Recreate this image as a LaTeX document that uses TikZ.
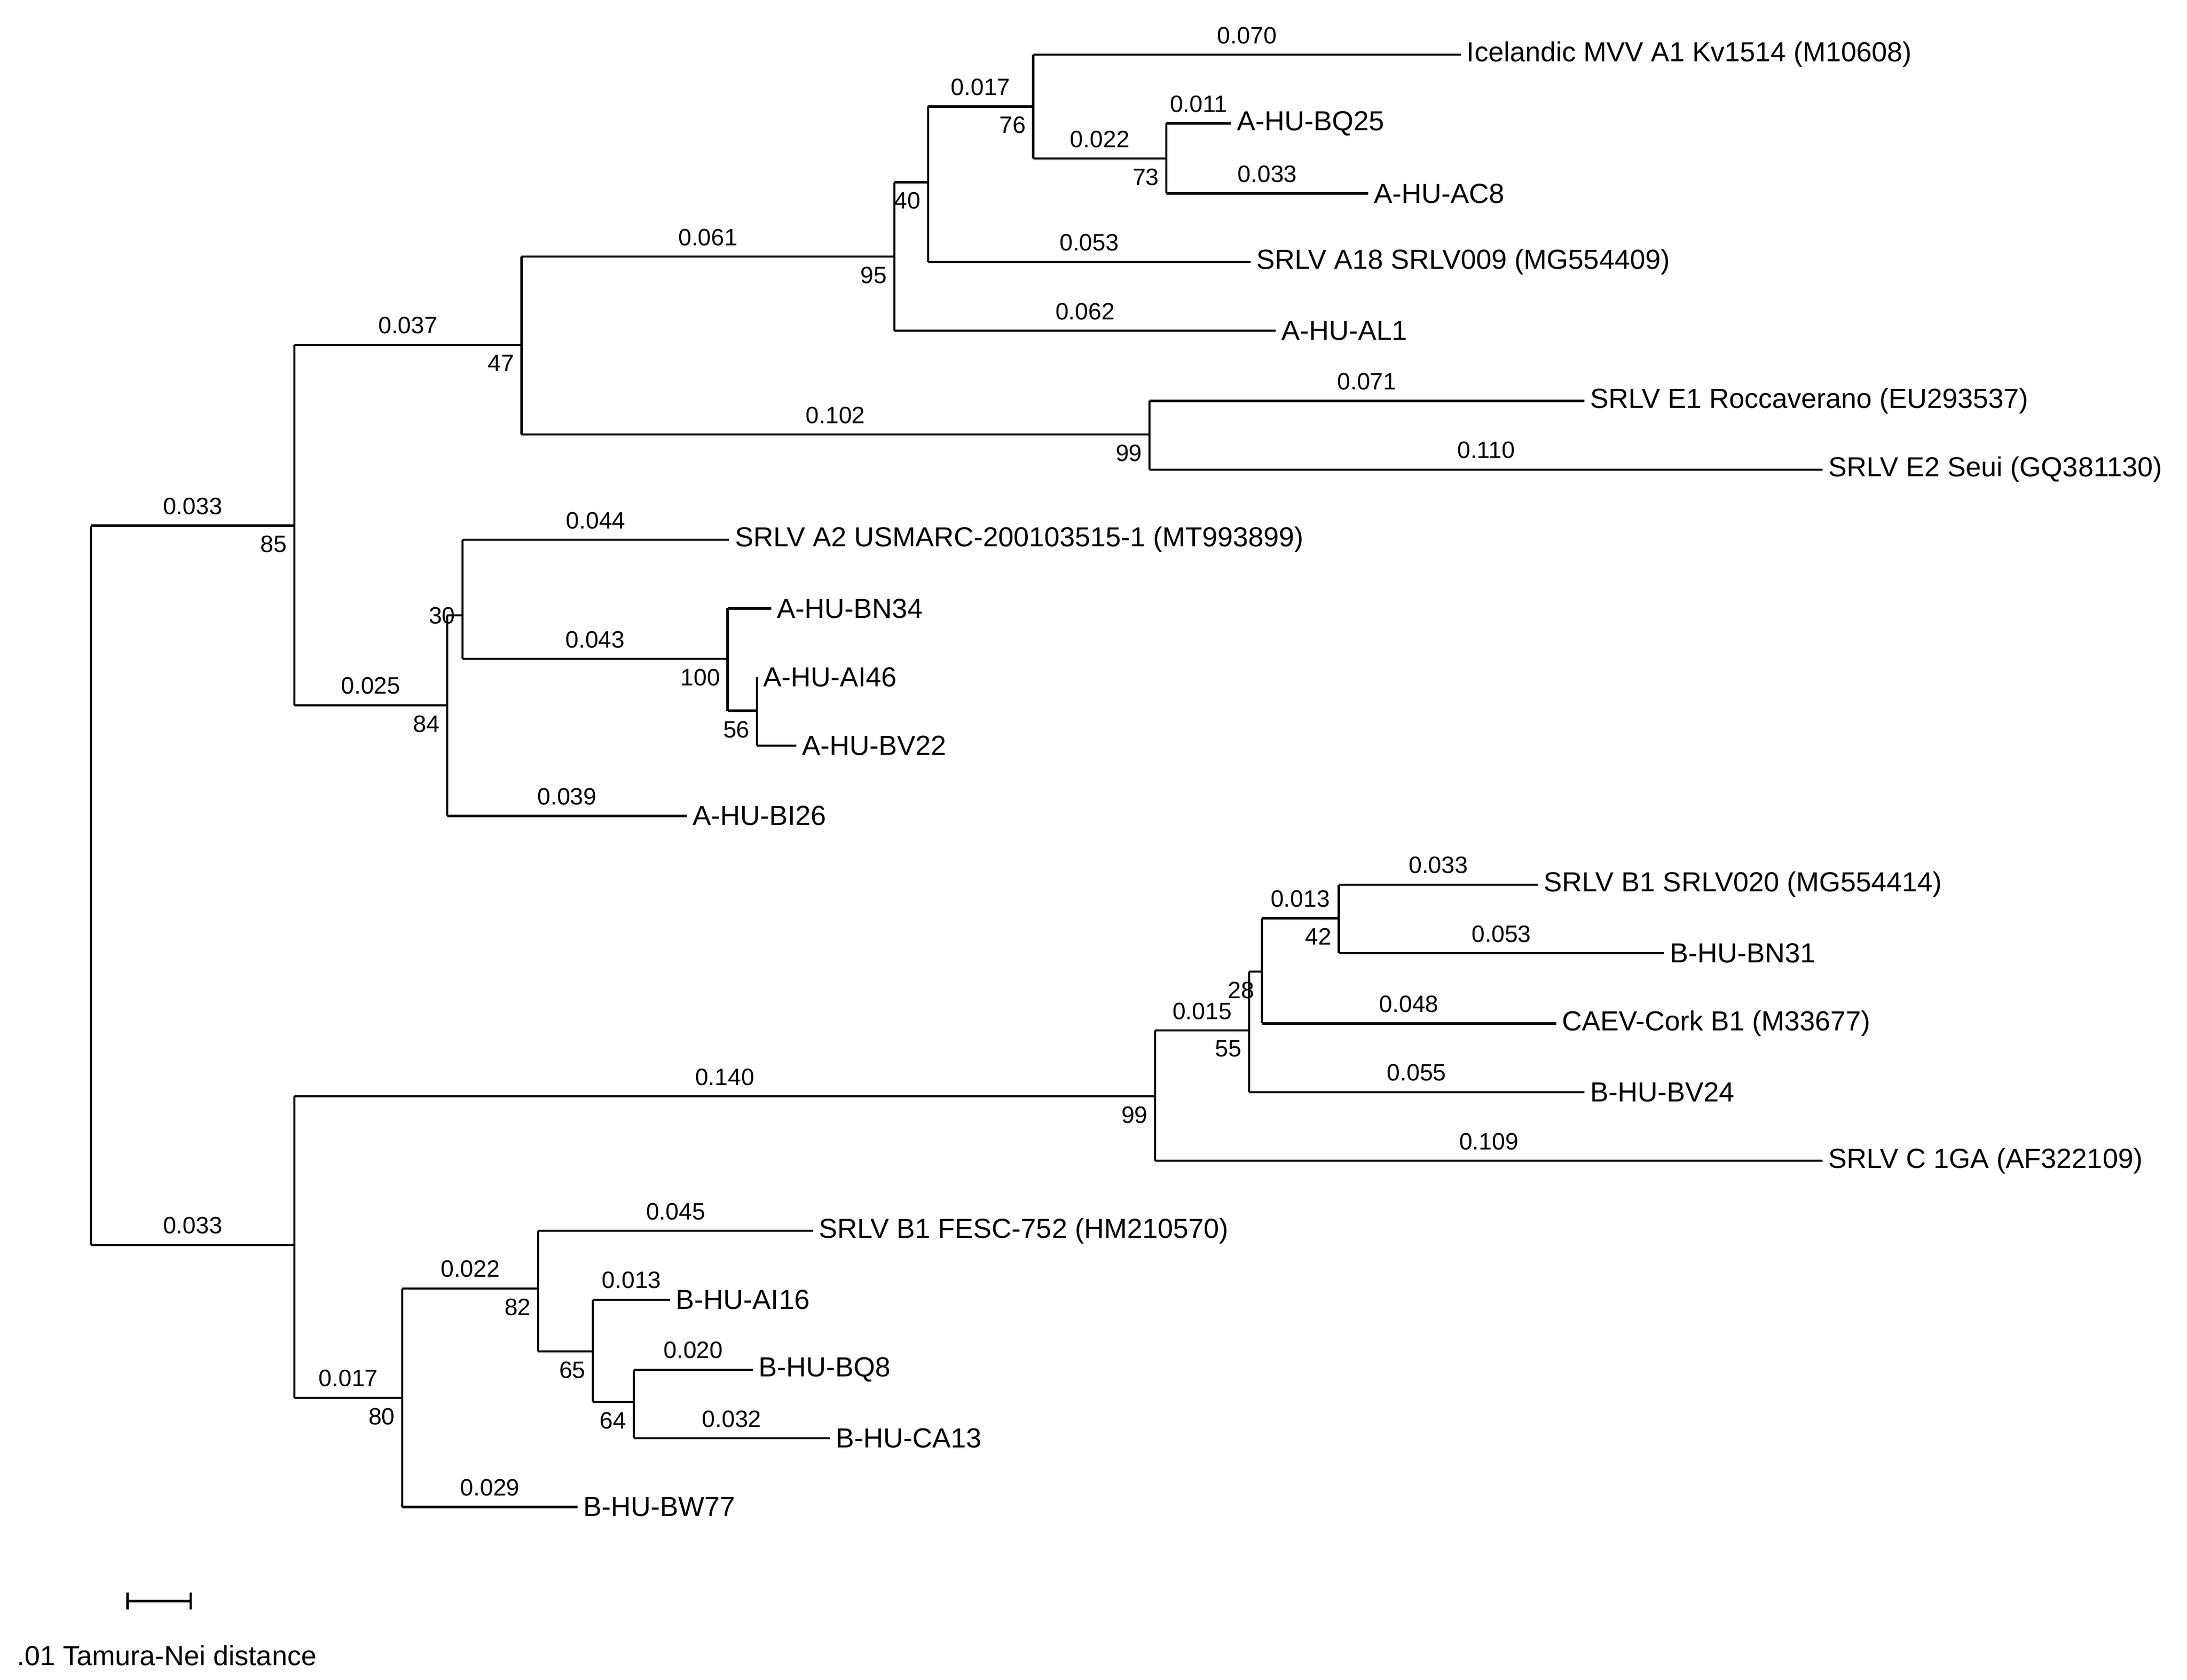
\documentclass[tikz,border=0pt]{standalone}
\usepackage{fontspec}
\setmainfont{Liberation Sans}
\begin{document}
\begin{tikzpicture}[x=0.01cm,y=-0.01cm,line width=0.45pt,
    leaf/.style={anchor=west,font=\fontsize{5.6}{6}\selectfont,inner sep=1pt},
    len/.style={above,font=\fontsize{4.8}{5}\selectfont,inner sep=2pt},
    boot/.style={anchor=north east,font=\fontsize{4.8}{5}\selectfont,inner sep=1pt}]
    \useasboundingbox (0,0) rectangle (1560,1198);
    % root
    \draw (65,375)--(65,888);
    \draw (65,375)--(210,375) node[len,midway] {0.033};
    \draw (65,888)--(210,888) node[len,midway] {0.033};
    \node[boot] at (209,378) {85};
    % clade A
    \draw (210,246)--(210,503);
    \draw (210,246)--(372,246) node[len,midway] {0.037};
    \node[boot] at (371,249) {47};
    \draw (372,183)--(372,310);
    \draw (372,183)--(638,183) node[len,midway] {0.061};
    \node[boot] at (637,186) {95};
    \draw (638,130)--(638,236);
    \draw (638,130)--(662,130);
    \node[boot] at (661,133) {40};
    \draw (662,76)--(662,187);
    \draw (662,76)--(737,76) node[len,midway] {0.017};
    \node[boot] at (736,79) {76};
    \draw (737,39)--(737,113);
    \draw (737,39)--(1042,39) node[len,midway] {0.070} node[leaf,at end] {Icelandic MVV A1 Kv1514 (M10608)};
    \draw (737,113)--(832,113) node[len,midway] {0.022};
    \node[boot] at (831,116) {73};
    \draw (832,88)--(832,138);
    \draw (832,88)--(878,88) node[len,midway] {0.011} node[leaf,at end] {A-HU-BQ25};
    \draw (832,138)--(976,138) node[len,midway] {0.033} node[leaf,at end] {A-HU-AC8};
    \draw (662,187)--(892,187) node[len,midway] {0.053} node[leaf,at end] {SRLV A18 SRLV009 (MG554409)};
    \draw (638,236)--(910,236) node[len,midway] {0.062} node[leaf,at end] {A-HU-AL1};
    \draw (372,310)--(820,310) node[len,midway] {0.102};
    \node[boot] at (819,313) {99};
    \draw (820,286)--(820,335);
    \draw (820,286)--(1130,286) node[len,midway] {0.071} node[leaf,at end] {SRLV E1 Roccaverano (EU293537)};
    \draw (820,335)--(1300,335) node[len,midway] {0.110} node[leaf,at end] {SRLV E2 Seui (GQ381130)};
    % clade A2
    \draw (210,503)--(319,503) node[len,midway] {0.025};
    \node[boot] at (318,506) {84};
    \draw (319,439)--(319,582);
    \draw (319,439)--(330,439);
    \node[boot] at (329,429) {30};
    \draw (330,385)--(330,470);
    \draw (330,385)--(520,385) node[len,midway] {0.044} node[leaf,at end] {SRLV A2 USMARC-200103515-1 (MT993899)};
    \draw (330,470)--(519,470) node[len,midway] {0.043};
    \node[boot] at (518,473) {100};
    \draw (519,434)--(519,507);
    \draw (519,434)--(550,434) node[leaf,at end] {A-HU-BN34};
    \draw (519,507)--(540,507);
    \node[boot] at (539,510) {56};
    \draw (540,483)--(540,532);
    \draw (540,483)--(540,483) node[leaf,at end] {A-HU-AI46};
    \draw (540,532)--(568,532) node[leaf,at end] {A-HU-BV22};
    \draw (319,582)--(490,582) node[len,midway] {0.039} node[leaf,at end] {A-HU-BI26};
    % clade B
    \draw (210,782)--(210,997);
    \draw (210,782)--(824,782) node[len,midway] {0.140};
    \node[boot] at (823,785) {99};
    \draw (824,735)--(824,828);
    \draw (824,735)--(891,735) node[len,midway] {0.015};
    \node[boot] at (890,738) {55};
    \draw (891,693)--(891,779);
    \draw (891,693)--(900,693);
    \node[boot] at (899,696) {28};
    \draw (900,655)--(900,730);
    \draw (900,655)--(955,655) node[len,midway] {0.013};
    \node[boot] at (954,658) {42};
    \draw (955,631)--(955,680);
    \draw (955,631)--(1097,631) node[len,midway] {0.033} node[leaf,at end] {SRLV B1 SRLV020 (MG554414)};
    \draw (955,680)--(1187,680) node[len,midway] {0.053} node[leaf,at end] {B-HU-BN31};
    \draw (900,730)--(1110,730) node[len,midway] {0.048} node[leaf,at end] {CAEV-Cork B1 (M33677)};
    \draw (891,779)--(1130,779) node[len,midway] {0.055} node[leaf,at end] {B-HU-BV24};
    \draw (824,828)--(1300,828) node[len,midway] {0.109} node[leaf,at end] {SRLV C 1GA (AF322109)};
    \draw (210,997)--(287,997) node[len,midway] {0.017};
    \node[boot] at (286,1000) {80};
    \draw (287,919)--(287,1075);
    \draw (287,919)--(384,919) node[len,midway] {0.022};
    \node[boot] at (383,922) {82};
    \draw (384,878)--(384,964);
    \draw (384,878)--(580,878) node[len,midway] {0.045} node[leaf,at end] {SRLV B1 FESC-752 (HM210570)};
    \draw (384,964)--(423,964);
    \node[boot] at (422,967) {65};
    \draw (423,927)--(423,1000);
    \draw (423,927)--(478,927) node[len,midway] {0.013} node[leaf,at end] {B-HU-AI16};
    \draw (423,1000)--(452,1000);
    \node[boot] at (451,1003) {64};
    \draw (452,977)--(452,1026);
    \draw (452,977)--(537,977) node[len,midway] {0.020} node[leaf,at end] {B-HU-BQ8};
    \draw (452,1026)--(592,1026) node[len,midway] {0.032} node[leaf,at end] {B-HU-CA13};
    \draw (287,1075)--(412,1075) node[len,midway] {0.029} node[leaf,at end] {B-HU-BW77};
    % scale bar
    \draw (91,1142)--(136,1142);
    \draw (91,1136)--(91,1148);
    \draw (136,1136)--(136,1148);
    \node[leaf] at (8,1181) {.01 Tamura-Nei distance};
\end{tikzpicture}
\end{document}
